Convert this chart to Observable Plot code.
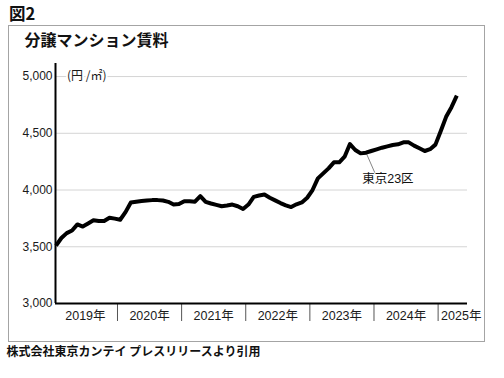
<!DOCTYPE html>
<html><head><meta charset="utf-8">
<script src="https://cdn.jsdelivr.net/npm/d3@7"></script>
<script src="https://cdn.jsdelivr.net/npm/@observablehq/plot@0.6"></script>
<style>
html,body{margin:0;padding:0;background:#fff;}
body{width:504px;height:378px;position:relative;overflow:hidden;font-family:"Noto Sans CJK JP",sans-serif;color:#111;}
#box{position:absolute;left:8px;top:25px;width:477px;height:317px;box-sizing:border-box;border:1.5px solid #a4a4a4;z-index:0;}
#fig{position:absolute;left:9px;top:5px;font-size:16.5px;font-weight:700;line-height:1;white-space:nowrap;}
#title{position:absolute;left:24.5px;top:31px;font-size:16px;font-weight:700;line-height:1;white-space:nowrap;z-index:2;}
#caption{position:absolute;left:6.5px;top:345px;font-size:12px;font-weight:700;line-height:1;white-space:nowrap;}
#chart{position:absolute;left:0;top:0;z-index:1;}
#chart svg{background:transparent;}
</style>
</head>
<body>
<div id="box"></div>
<div id="fig">図2</div>
<div id="title">分譲マンション賃料</div>
<div id="chart"></div>
<div id="caption">株式会社東京カンテイ プレスリリースより引用</div>
<script>
// Monthly values, Jan 2019 – Apr 2025 (円/㎡), Tokyo 23 wards
const years = ["2019", "2020", "2021", "2022", "2023", "2024", "2025"];
const rent = [
  3510, 3577, 3620, 3643, 3697, 3678, 3705, 3733, 3727, 3727, 3756, 3748,
  3738, 3805, 3890, 3897, 3903, 3908, 3911, 3911, 3908, 3896, 3872, 3876,
  3902, 3902, 3897, 3946, 3896, 3881, 3869, 3857, 3863, 3872, 3857, 3833,
  3872, 3940, 3952, 3960, 3932, 3909, 3885, 3865, 3850, 3874, 3891, 3932,
  4000, 4103, 4147, 4191, 4244, 4244, 4294, 4405, 4353, 4323, 4329, 4344,
  4359, 4373, 4385, 4397, 4403, 4420, 4420, 4391, 4368, 4344, 4360, 4400,
  4520, 4645, 4730, 4832
];
const yTicks = [3000, 3500, 4000, 4500, 5000];
const gridValues = [3500, 4000, 4500, 5000];
const unitLabel = "(円 /㎡)";
const seriesLabel = "東京23区";

const xDomain = [-0.1, 77];
const yDomain = [3000, 5115];

const data = rent.map((v, i) => ({m: i, v}));
const seps = years.slice(1).map((y, i) => 12 * (i + 1) - 0.5);
const yearLabels = years.map((y, i) => ({
  label: y + "年",
  x: i < years.length - 1 ? 12 * i + 5.5 : 12 * i - 0.5,
  last: i === years.length - 1
}));
const anno = [{x1: 58.1, y1: 4320, x2: 59.65, y2: 4153, tx: 62.1, ty: 4093, text: seriesLabel}];

const font = '"Liberation Sans", "Noto Sans CJK JP", sans-serif';

const chart = Plot.plot({
  width: 504,
  height: 378,
  marginLeft: 55,
  marginRight: 37,
  marginTop: 63,
  marginBottom: 75,
  style: {fontFamily: font, background: "transparent", color: "#1a1a1a"},
  x: {domain: xDomain, axis: null},
  y: {domain: yDomain, axis: null},
  marks: [
    Plot.ruleY(gridValues, {stroke: "#d4d4d4", strokeWidth: 1}),
    Plot.axisY(yTicks, {anchor: "left", tickSize: 0, tickPadding: 3, tickFormat: d3.format(","), fontSize: 12, label: null, fill: "#1a1a1a"}),
    Plot.axisX(seps, {anchor: "bottom", tickSize: 18, tickFormat: () => "", label: null, stroke: "#555", strokeWidth: 1}),
    Plot.text(yearLabels.filter(d => !d.last), {x: "x", text: "label", frameAnchor: "bottom", dy: 12, lineAnchor: "middle", fontSize: 12.5, fill: "#1a1a1a"}),
    Plot.text(yearLabels.filter(d => d.last), {x: "x", text: "label", frameAnchor: "bottom", dy: 12, dx: 3, textAnchor: "start", lineAnchor: "middle", fontSize: 12.5, fill: "#1a1a1a"}),
    Plot.text([unitLabel], {x: xDomain[0], y: 5000, text: d => d, dx: 11.5, textAnchor: "start", lineAnchor: "middle", fontSize: 12, fill: "#1a1a1a", stroke: "white", strokeWidth: 4, fontFamily: '"Noto Sans CJK JP", sans-serif'}),
    Plot.link(anno, {x1: "x1", y1: "y1", x2: "x2", y2: "y2", stroke: "#666", strokeWidth: 0.8}),
    Plot.text(anno, {x: "tx", y: "ty", text: "text", lineAnchor: "middle", fontSize: 12.5, fill: "#111"}),
    Plot.line(data, {x: "m", y: "v", stroke: "#000", strokeWidth: 4, strokeLinejoin: "round", strokeLinecap: "butt"}),
    Plot.ruleX([xDomain[0]], {y1: yDomain[0], y2: yDomain[1], stroke: "#000", strokeWidth: 2}),
    Plot.ruleY([yDomain[0]], {x1: xDomain[0], x2: xDomain[1], stroke: "#000", strokeWidth: 2})
  ]
});
document.getElementById("chart").appendChild(chart);
</script>
</body></html>
